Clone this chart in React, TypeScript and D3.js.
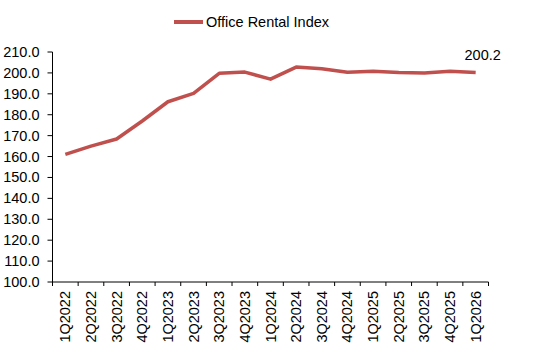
import React from "react";
import * as d3 from "d3";

const categories = ["1Q2022","2Q2022","3Q2022","4Q2022","1Q2023","2Q2023","3Q2023","4Q2023","1Q2024","2Q2024","3Q2024","4Q2024","1Q2025","2Q2025","3Q2025","4Q2025","1Q2026"];
const values = [161.0,165.0,168.4,177.0,186.2,190.2,199.8,200.4,197.0,202.8,202.0,200.3,200.8,200.2,200.0,200.8,200.2];
const yTicks = [100,110,120,130,140,150,160,170,180,190,200,210];
const seriesName = "Office Rental Index";

const W = 556, H = 361;
const left = 52.5, right = 488.5, top = 52, bottom = 282;

export default function App() {
  const x = d3.scaleBand<string>().domain(categories).range([left, right]);
  const y = d3.scaleLinear().domain([100, 210]).range([bottom, top]);
  const line = d3.line<number>()
    .x((_, i) => (x(categories[i]) as number) + x.bandwidth() / 2)
    .y((d) => y(d));
  const font = "'Liberation Sans', Arial, sans-serif";
  const lastI = values.length - 1;
  const lx = (x(categories[lastI]) as number) + x.bandwidth() / 2;
  return (
    <div style={{ position: "absolute", left: 0, top: 0 }}>
      <svg width={W} height={H} style={{ display: "block", background: "#fff" }} fontFamily={font}>
        {/* legend */}
        <line x1={174} x2={203} y1={22} y2={22} stroke="#C0504D" strokeWidth={4} />
        <text x={206} y={27} fontSize={14.5} fill="#000">{seriesName}</text>
        {/* y axis */}
        <line x1={left} x2={left} y1={top} y2={bottom} stroke="#000" strokeWidth={1} />
        {yTicks.map((t) => (
          <g key={t}>
            <line x1={left - 5} x2={left} y1={y(t)} y2={y(t)} stroke="#000" />
            <text x={39.5} y={y(t) + 5} textAnchor="end" fontSize={14.5} fill="#000">{t.toFixed(1)}</text>
          </g>
        ))}
        {/* x axis */}
        <line x1={left} x2={right} y1={bottom} y2={bottom} stroke="#000" />
        {categories.map((c) => (
          <line key={"t" + c} x1={x(c) as number} x2={x(c) as number} y1={bottom} y2={bottom + 4} stroke="#000" />
        ))}
        <line x1={right} x2={right} y1={bottom} y2={bottom + 4} stroke="#000" />
        {categories.map((c) => {
          const cx = (x(c) as number) + x.bandwidth() / 2;
          return (
            <text key={c} transform={`translate(${cx + 5},${291}) rotate(-90)`} textAnchor="end" fontSize={14.5} fill="#000">{c}</text>
          );
        })}
        {/* line */}
        <path d={line(values) || ""} fill="none" stroke="#C0504D" strokeWidth={3.5} strokeLinejoin="round" />
        <text x={lx + 7} y={60} textAnchor="middle" fontSize={14.5} fill="#000">{values[lastI].toFixed(1)}</text>
      </svg>
    </div>
  );
}
